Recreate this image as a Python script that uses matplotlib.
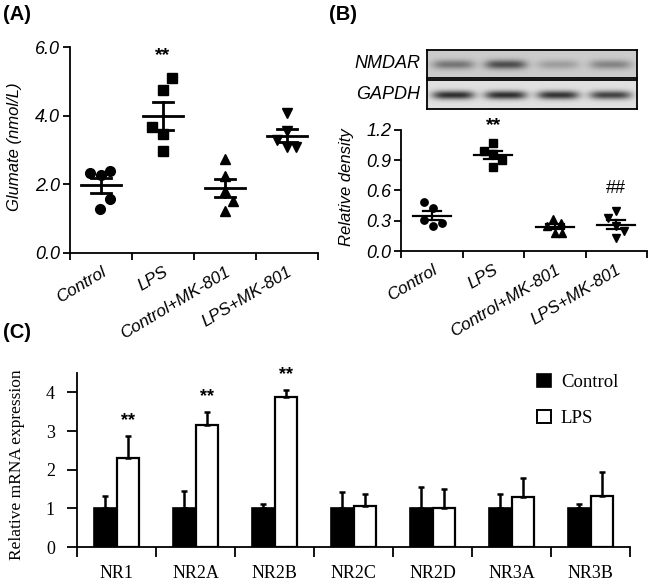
import numpy as np
import matplotlib
matplotlib.use("Agg")
import matplotlib.pyplot as plt
from matplotlib.patches import Patch

# ---------------- data ----------------
groups = ["Control", "LPS", "Control+MK-801", "LPS+MK-801"]

glu_control = [2.32, 2.26, 2.40, 1.58, 1.28]
glu_lps = [5.09, 4.75, 3.68, 3.47, 2.98]
glu_ctrl_mk801 = [2.73, 2.23, 1.82, 1.50, 1.21]
glu_lps_mk801 = [4.07, 3.55, 3.29, 3.10, 3.10]
glu_yticks = [0.0, 2.0, 4.0, 6.0]

dens_control = [0.49, 0.43, 0.305, 0.28, 0.245]
dens_lps = [1.07, 0.99, 0.96, 0.90, 0.83]
dens_ctrl_mk801 = [0.32, 0.28, 0.245, 0.18, 0.18]
dens_lps_mk801 = [0.40, 0.33, 0.245, 0.20, 0.13]
dens_yticks = [0.0, 0.3, 0.6, 0.9, 1.2]

blot_labels = ["NMDAR", "GAPDH"]
nmdar_band = [0.34, 0.50, 0.18, 0.28]
gapdh_band = [0.70, 0.70, 0.68, 0.62]

subunits = ["NR1", "NR2A", "NR2B", "NR2C", "NR2D", "NR3A", "NR3B"]
ctrl_mean = [1.0, 1.0, 1.0, 1.0, 1.0, 1.0, 1.0]
ctrl_sd = [0.32, 0.44, 0.10, 0.41, 0.55, 0.36, 0.10]
lps_mean = [2.31, 3.16, 3.87, 1.05, 1.02, 1.29, 1.32]
lps_sd = [0.55, 0.32, 0.19, 0.33, 0.49, 0.50, 0.63]
lps_sig = ["**", "**", "**", "", "", "", ""]
mrna_yticks = [0, 1, 2, 3, 4]

# point spread inside a category (layout only)
jit_a = [[-0.17, 0, 0.15, 0.14, -0.02], [0.15, 0, -0.17, 0, 0],
         [0, 0, 0, 0.13, 0], [0, 0, -0.16, 0, 0.14]]
jit_b = [[-0.13, 0.02, -0.13, 0.16, 0.02], [0, -0.15, 0, 0.14, 0],
         [-0.03, 0.1, -0.12, 0, 0.12], [0, -0.14, 0, 0.13, 0]]

SANS = "Liberation Sans"
SERIF = "Liberation Serif"

W, H = 649, 581
fig = plt.figure(figsize=(W / 100, H / 100), dpi=100)


def ax_px(l, t, r, b):
    return fig.add_axes([l / W, 1 - b / H, (r - l) / W, (b - t) / H])


def ftext(x, y, s, **kw):
    fig.text(x / W, 1 - y / H, s, **kw)


def scatter_panel(ax, series, jit, markers, ms, mean_hw, sem_hw, lw):
    for i, (vals, jj, m) in enumerate(zip(series, jit, markers)):
        v = np.asarray(vals)
        x = i + np.asarray(jj)
        ax.plot(x, v, ls="none", marker=m, color="black", ms=ms, clip_on=False, zorder=3)
        mean = v.mean()
        sem = v.std(ddof=1) / np.sqrt(len(v))
        ax.plot([i - mean_hw, i + mean_hw], [mean, mean], color="black", lw=lw, zorder=4)
        for yy in (mean - sem, mean + sem):
            ax.plot([i - sem_hw, i + sem_hw], [yy, yy], color="black", lw=lw, zorder=4)
        ax.plot([i, i], [mean - sem, mean + sem], color="black", lw=lw, zorder=4)


def style_scatter_axes(ax, yticks, fmt):
    for s in ("top", "right"):
        ax.spines[s].set_visible(False)
    for s in ("left", "bottom"):
        ax.spines[s].set_linewidth(1.3)
    ax.set_xlim(-0.5, 3.5)
    ax.set_ylim(yticks[0], yticks[-1])
    ax.set_yticks(yticks)
    ax.set_yticklabels([fmt.format(t) for t in yticks], fontfamily=SANS,
                       fontstyle="italic", fontsize=13)
    ax.tick_params(axis="y", length=5, width=1.3, pad=2)
    ax.set_xticks(range(len(groups)))
    ax.set_xticklabels(groups, rotation=31, ha="right", rotation_mode="anchor",
                       fontfamily=SANS, fontstyle="italic", fontsize=12.3)
    ax.tick_params(axis="x", which="major", length=0, pad=8)
    ax.set_xticks(np.arange(-0.5, len(groups), 1.0), minor=True)
    ax.tick_params(axis="x", which="minor", length=5, width=1.3)


# ---------------- panel A ----------------
axA = ax_px(70, 47, 318, 253)
scatter_panel(axA, [glu_control, glu_lps, glu_ctrl_mk801, glu_lps_mk801], jit_a,
              ["o", "s", "^", "v"], 7.0, 0.33, 0.16, 2.0)
style_scatter_axes(axA, glu_yticks, "{:.1f}")
axA.text(1, 5.75, "**", ha="center", va="center", fontsize=14, fontweight="bold",
         fontfamily=SANS)
ftext(15, 147, "Glumate (nmol/L)", rotation=90, ha="center", va="center",
      fontfamily=SANS, fontstyle="italic", fontsize=12)
ftext(3, 14, "(A)", ha="left", va="center", fontfamily=SANS, fontweight="bold", fontsize=14.5)

# ---------------- panel B ----------------
axB = ax_px(401, 130, 647, 251)
scatter_panel(axB, [dens_control, dens_lps, dens_ctrl_mk801, dens_lps_mk801], jit_b,
              ["o", "s", "^", "v"], 5.3, 0.31, 0.15, 1.6)
style_scatter_axes(axB, dens_yticks, "{:.1f}")
axB.text(1, 1.245, "**", ha="center", va="center", fontsize=14, fontweight="bold",
         fontfamily=SANS)
axB.text(3, 0.62, "##", ha="center", va="center", fontsize=13, fontfamily=SANS)
ftext(347, 187, "Relative density", rotation=90, ha="center", va="center",
      fontfamily=SANS, fontstyle="italic", fontsize=12)
ftext(329, 14, "(B)", ha="left", va="center", fontfamily=SANS, fontweight="bold", fontsize=14.5)

# western blot strips
xs = np.linspace(0, 4, 420)
ys = np.linspace(0, 1, 60)
XX, YY = np.meshgrid(xs, ys)
for (top, bot), label, bands, bg, hy in zip([(50, 78), (80, 109)], blot_labels,
                                            [nmdar_band, gapdh_band], [0.80, 0.88],
                                            [0.17, 0.15]):
    axw = ax_px(427, top, 637, bot)
    img = np.full_like(XX, bg)
    for k, d in enumerate(bands):
        prof = np.exp(-((XX - (k + 0.5)) / 0.40) ** 4) * np.exp(-((YY - 0.52) / hy) ** 2)
        img = img - d * prof
    axw.imshow(img, cmap="gray", vmin=0, vmax=1, extent=[0, 4, 0, 1], aspect="auto",
               interpolation="bilinear")
    axw.set_xticks([])
    axw.set_yticks([])
    for s in axw.spines.values():
        s.set_linewidth(1.3)
    ftext(420, (top + bot) / 2, label, ha="right", va="center", fontfamily=SANS,
          fontstyle="italic", fontsize=13)

# ---------------- panel C ----------------
axC = ax_px(77, 373, 630, 547)
x = np.arange(len(subunits))
w = 0.285
axC.bar(x - w / 2, ctrl_mean, w, color="black", edgecolor="black", lw=1.2,
        yerr=[np.zeros(len(x)), ctrl_sd],
        error_kw=dict(ecolor="black", elinewidth=1.8, capsize=2.5, capthick=1.8),
        label="Control", zorder=2)
axC.bar(x + w / 2, lps_mean, w, color="white", edgecolor="black", lw=1.6,
        yerr=[np.zeros(len(x)), lps_sd],
        error_kw=dict(ecolor="black", elinewidth=1.8, capsize=2.5, capthick=1.8),
        label="LPS", zorder=2)
for xi, m, e, s in zip(x, lps_mean, lps_sd, lps_sig):
    if s:
        axC.annotate(s, (xi + w / 2, m + e), xytext=(0, 5), textcoords="offset points",
                     ha="center", va="bottom", fontsize=13, fontweight="bold",
                     fontfamily=SANS, annotation_clip=False)
for s in ("top", "right"):
    axC.spines[s].set_visible(False)
for s in ("left", "bottom"):
    axC.spines[s].set_linewidth(1.3)
axC.set_xlim(-0.5, len(subunits) - 0.5)
axC.set_ylim(0, 4.5)
axC.set_yticks(mrna_yticks)
axC.set_yticklabels([str(t) for t in mrna_yticks], fontfamily=SERIF, fontsize=13)
axC.tick_params(axis="y", length=7, width=1.3, pad=9)
axC.set_xticks(x)
axC.set_xticklabels(subunits, fontfamily=SERIF, fontsize=13)
axC.tick_params(axis="x", which="major", length=0, pad=13)
axC.set_xticks(np.arange(-0.5, len(subunits), 1.0), minor=True)
axC.tick_params(axis="x", which="minor", length=7, width=1.3)
handles = [Patch(facecolor="black", edgecolor="black", lw=1.2),
           Patch(facecolor="white", edgecolor="black", lw=1.4)]
leg = axC.legend(handles, ["Control", "LPS"], loc="upper left",
                 bbox_to_anchor=(537 / W, 1 - 374 / H), bbox_transform=fig.transFigure,
                 frameon=False, borderpad=0, borderaxespad=0, handlelength=0.72,
                 handleheight=0.72, handletextpad=0.55, labelspacing=1.0,
                 prop=dict(family=SERIF, size=13.5))
ftext(17, 465, "Relative mRNA expression", rotation=90, ha="center", va="center",
      fontfamily=SERIF, fontsize=12.5)
ftext(3, 333, "(C)", ha="left", va="center", fontfamily=SANS, fontweight="bold", fontsize=14.5)

fig.savefig("out.png", dpi=100)
